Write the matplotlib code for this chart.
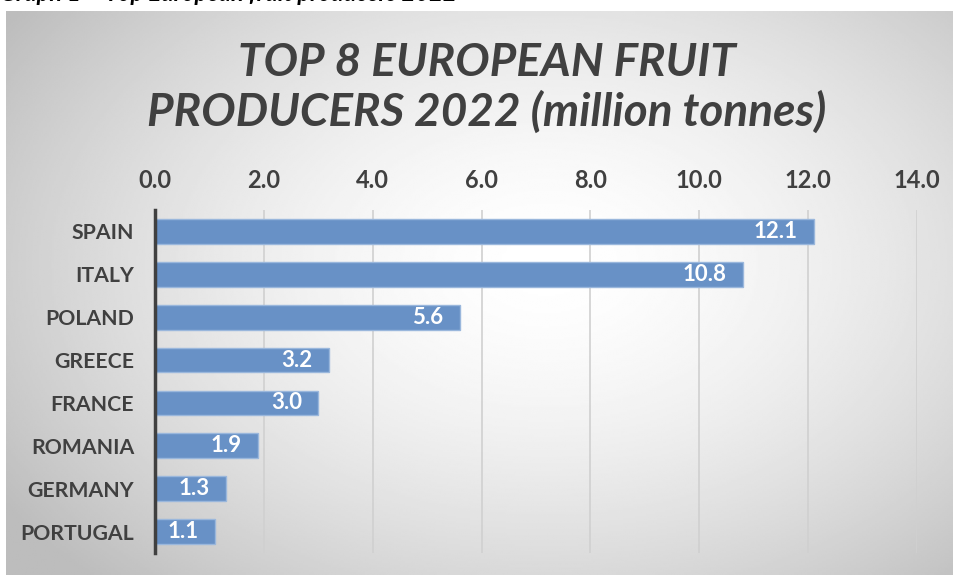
import matplotlib.pyplot as plt
import numpy as np

countries = ["SPAIN", "ITALY", "POLAND", "GREECE", "FRANCE", "ROMANIA", "GERMANY", "PORTUGAL"]
production = [12.1, 10.8, 5.6, 3.2, 3.0, 1.9, 1.3, 1.1]  # million tonnes
xticks = [0, 2, 4, 6, 8, 10, 12, 14]

plt.rcParams['font.family'] = ['Lato', 'DejaVu Sans']

text_grey = "#404040"
bar_blue = "#6891c6"

fig = plt.figure(figsize=(9.54, 5.75), dpi=100)
fig.patch.set_facecolor("white")

# grey panel with a soft radial highlight
bg = fig.add_axes([6 / 954, 0, 1 - 6 / 954, 1 - 11 / 575], zorder=0)
yy, xx = np.mgrid[0:1:300j, 0:1:500j]
r = np.sqrt(((xx - 0.57) / 0.75) ** 2 + ((yy - 0.45) / 0.85) ** 2)
shade = np.clip(1.0 - 0.30 * r ** 1.6, 0.74, 1.0)
bg.imshow(shade, cmap="gray", vmin=0, vmax=1, aspect="auto",
          extent=[0, 1, 1, 0], interpolation="bilinear")
bg.axis("off")

# caption line above the panel, only its lower edge shows
fig.text(0.0, 1 - 1 / 575, "Graph 1 \u2013 Top European fruit producers 2022", fontsize=17,
         fontstyle="italic", fontweight="bold", color="black",
         ha="left", va="baseline")

ax = fig.add_axes([155 / 954, 22 / 575, (917 - 155) / 954, (553 - 210) / 575], zorder=1)
ax.patch.set_alpha(0)

y = np.arange(len(countries))
bars = ax.barh(y, production, height=0.58, color=bar_blue,
               edgecolor="#9ab7dc", linewidth=1.0, zorder=3)
for b, v in zip(bars, production):
    ax.text(v - 0.3, b.get_y() + b.get_height() / 2, f"{v:.1f}",
            ha="right", va="center", color="white", fontsize=16,
            fontweight="bold", zorder=4)

ax.set_xlim(0, 14)
ax.set_ylim(len(countries) - 0.5, -0.5)
ax.set_xticks(xticks)
ax.set_xticklabels([f"{t:.1f}" for t in xticks])
ax.set_yticks(y)
ax.set_yticklabels(countries)
ax.xaxis.tick_top()
ax.tick_params(axis="x", length=0, pad=13, labelsize=17, labelcolor=text_grey)
ax.tick_params(axis="y", length=0, pad=15, labelsize=15.3, labelcolor=text_grey)
for lab in ax.get_xticklabels() + ax.get_yticklabels():
    lab.set_fontweight("bold")

ax.grid(axis="x", color="#d0d0d0", linewidth=1.2, zorder=1)
ax.grid(axis="y", visible=False)
for side in ["top", "right", "bottom"]:
    ax.spines[side].set_visible(False)
ax.spines["left"].set_color(text_grey)
ax.spines["left"].set_linewidth(2.5)
ax.spines["left"].set_zorder(5)

fig.text(487 / 954, 1 - 88 / 575, "TOP 8 EUROPEAN FRUIT\nPRODUCERS 2022 (million tonnes)",
         ha="center", va="center", fontsize=33, fontweight="bold", fontstyle="italic",
         color=text_grey, linespacing=1.2)

fig.savefig("out.png", dpi=100)
